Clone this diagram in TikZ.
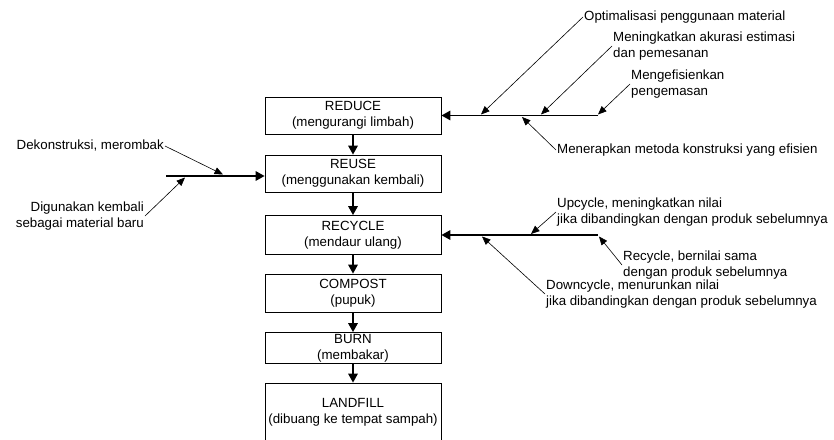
\documentclass[tikz,border=0pt]{standalone}
\usepackage{fontspec}
\setmainfont{Liberation Sans}
\usetikzlibrary{arrows.meta}
\begin{document}
\begin{tikzpicture}[x=1pt,y=-1pt,
  every node/.style={font=\fontsize{13.3}{15.7}\selectfont},
  box/.style={draw, line width=0.8pt, minimum width=176pt, align=center, inner sep=0pt},
  main/.style={line width=1.7pt, -{Triangle[length=9pt,width=9.5pt]}},
  leader/.style={line width=0.6pt, -{Triangle[length=8.5pt,width=7pt]}},
  lab/.style={inner sep=1pt, align=left},
  labr/.style={inner sep=1pt, align=right}]
\useasboundingbox (0,0) rectangle (834,439);
% boxes
\node[box, minimum height=37pt] (reduce) at (353,115.5) {REDUCE\\(mengurangi limbah)};
\node[box, minimum height=37pt] (reuse) at (353,173.5) {REUSE\\(menggunakan kembali)};
\node[box, minimum height=39pt] (recycle) at (353,235) {RECYCLE\\(mendaur ulang)};
\node[box, minimum height=38pt] (compost) at (353,293) {COMPOST\\(pupuk)};
\node[box, minimum height=31pt] (burn) at (353,348) {BURN\\(membakar)};
\node[box, minimum height=58pt] (landfill) at (353,412) {LANDFILL\\(dibuang ke tempat sampah)};
% vertical flow
\draw[main] (reduce) -- (reuse);
\draw[main] (reuse) -- (recycle);
\draw[main] (recycle) -- (compost);
\draw[main] (compost) -- (burn);
\draw[main] (burn) -- (landfill);
% REDUCE inputs
\coordinate (rdend) at (598,115.5);
\draw[main] (rdend) -- (reduce.east);
\coordinate (rd1) at (481,114.5);
\coordinate (rd2) at (541,114.5);
\coordinate (rd3) at (598,114.5);
\coordinate (rd4) at (522,117);
\node[lab, anchor=west] (opt) at (583,17) {Optimalisasi penggunaan material};
\node[lab, anchor=west] (akur) at (612,46) {Meningkatkan akurasi estimasi\\dan pemesanan};
\node[lab, anchor=west] (kemas) at (630,84) {Mengefisienkan\\pengemasan};
\node[lab, anchor=west] (metoda) at (556,150) {Menerapkan metoda konstruksi yang efisien};
\draw[leader] (opt.west) -- (rd1);
\draw[leader] (akur.west) -- (rd2);
\draw[leader] (kemas.west) -- (rd3);
\draw[leader] (metoda.west) -- (rd4);
% REUSE inputs
\coordinate (rsstart) at (166,176);
\draw[main] (rsstart) -- (reuse.west |- rsstart);
\coordinate (rs1) at (223,174.5);
\coordinate (rs2) at (185,177.5);
\node[labr, anchor=east] (dekon) at (165,146) {Dekonstruksi, merombak};
\node[labr, anchor=east] (guna) at (145,216) {Digunakan kembali\\sebagai material baru};
\draw[leader] (dekon.east) -- (rs1);
\draw[leader] (guna.east) -- (rs2);
% RECYCLE inputs
\coordinate (rcend) at (598,235);
\draw[main] (rcend) -- (recycle.east);
\coordinate (rc1) at (531,234);
\coordinate (rc2) at (599,236.5);
\coordinate (rc3) at (482,236.5);
\node[lab, anchor=west] (up) at (556,212) {Upcycle, meningkatkan nilai\\jika dibandingkan dengan produk sebelumnya};
\node[lab, anchor=west] (same) at (622,265) {Recycle, bernilai sama\\dengan produk sebelumnya};
\node[lab, anchor=west] (down) at (545,294) {Downcycle, menurunkan nilai\\jika dibandingkan dengan produk sebelumnya};
\draw[leader] (up.west) -- (rc1);
\draw[leader] (same.west) -- (rc2);
\draw[leader] (down.west) -- (rc3);
\end{tikzpicture}
\end{document}
